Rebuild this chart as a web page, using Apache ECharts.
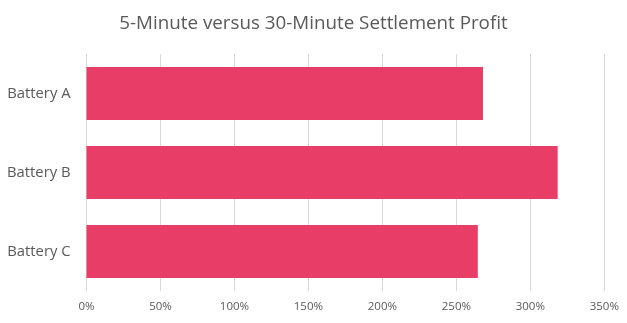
<!DOCTYPE html>
<html><head><meta charset="utf-8">
<script src="https://cdn.jsdelivr.net/npm/echarts@6/dist/echarts.min.js"></script>
<style>html,body{margin:0;padding:0;background:#fff}#c{width:627px;height:323px}</style>
</head><body><div id="c"></div>
<script>
const categories = ['Battery A', 'Battery B', 'Battery C'];
const values = [268, 318.5, 264.5];
const xTicks = [0, 50, 100, 150, 200, 250, 300, 350];
const chart = echarts.init(document.getElementById('c'));
chart.setOption({
  animation: false,
  title: {
    text: '5-Minute versus 30-Minute Settlement Profit',
    left: 'center', top: 9,
    textStyle: { fontFamily: 'Open Sans', fontSize: 18.8, fontWeight: 'normal', color: '#595959' }
  },
  grid: { left: 86.5, right: 22.7, top: 54, height: 237, containLabel: false },
  xAxis: {
    type: 'value', min: xTicks[0], max: xTicks[xTicks.length - 1], interval: 50,
    axisLine: { show: false }, axisTick: { show: false },
    splitLine: { lineStyle: { color: '#d9d9d9', width: 1 } },
    axisLabel: { formatter: v => v + '%', color: '#595959', fontFamily: 'Open Sans', fontSize: 11.5, margin: 10 }
  },
  yAxis: {
    type: 'category', data: categories, inverse: true,
    axisLine: { show: false }, axisTick: { show: false },
    axisLabel: { color: '#595959', fontFamily: 'Open Sans', fontSize: 14.8, margin: 16 }
  },
  series: [{
    type: 'bar', data: values, barCategoryGap: '33%',
    itemStyle: { color: '#E83D67' }
  }]
});
</script></body></html>
